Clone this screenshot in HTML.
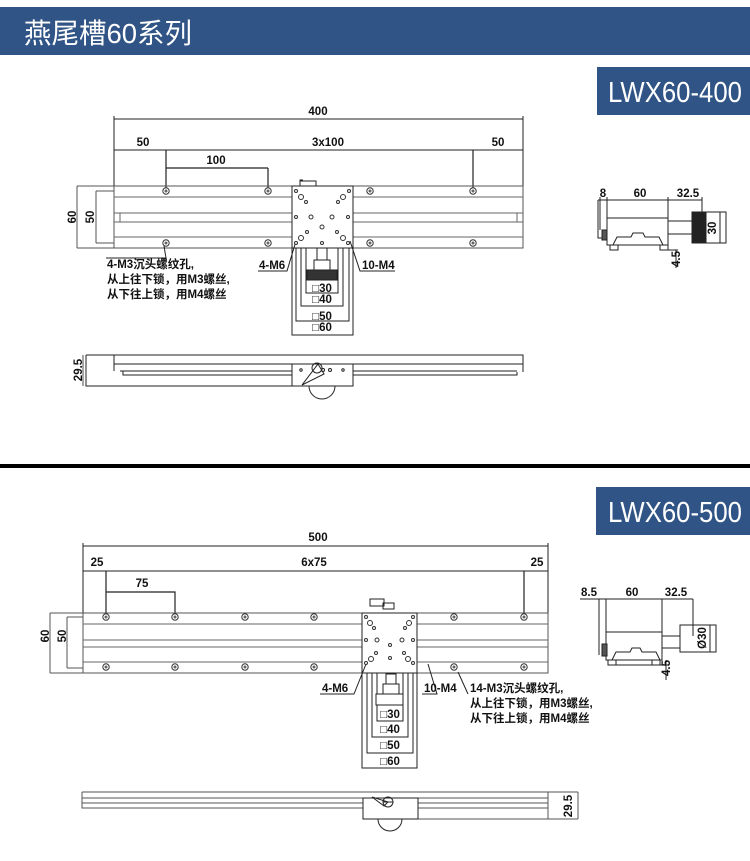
<!DOCTYPE html>
<html><head><meta charset="utf-8"><style>
html,body{margin:0;padding:0;background:#fff;width:750px;height:861px;overflow:hidden}
svg{display:block}
text{font-family:"Liberation Sans","Noto Sans CJK SC",sans-serif;fill:#111}
</style></head><body>
<svg width="750" height="861" viewBox="0 0 750 861" xmlns="http://www.w3.org/2000/svg">
<defs>
<g id="h"><circle r="3.2" fill="#fff" stroke="#333" stroke-width="1"/><circle r="1.5" fill="#666"/></g>
</defs>
<!-- header -->
<rect x="0" y="7" width="750" height="48" fill="#2f5485"/>
<text x="24" y="43" font-size="28" textLength="168" lengthAdjust="spacingAndGlyphs" style="fill:#fff">燕尾槽60系列</text>
<rect x="597" y="67" width="153" height="48" fill="#2f5485"/>
<text x="608" y="102" font-size="29" textLength="134" lengthAdjust="spacingAndGlyphs" style="fill:#fff">LWX60-400</text>
<rect x="0" y="464" width="750" height="4" fill="#000"/>
<rect x="596" y="487" width="154" height="48" fill="#2f5485"/>
<text x="608" y="522" font-size="29" textLength="134" lengthAdjust="spacingAndGlyphs" style="fill:#fff">LWX60-500</text>

<g fill="none" stroke="#222" stroke-width="1">
<!-- ===== TOP 400 ===== -->
<path d="M114 119H523M114 116V190M523 116V248M114 150H523"/>
<path d="M166 150V190M268 168V190M166 168H268M473 150V190" stroke-width="1.2"/>
<rect x="114" y="186" width="409" height="62" stroke="#555"/>
<path d="M77 186H114M77 248H114M77 186V248M96 191H114M96 243H114M96 191V243" stroke="#555"/>
<path d="M114 197H523M114 213H523M114 222H523M114 237H523M120 213V222M517 213V222" stroke="#666"/>
<rect x="292" y="186" width="61" height="62" fill="#fff"/>
<path d="M292 248V335H353V248M296 248V321H349V248M301 248V306H343V248M306 248V293H338V248"/>
<rect x="317" y="248" width="10" height="12"/><rect x="314" y="260" width="16" height="10"/>
<rect x="307" y="270" width="30" height="10" fill="#333"/>
<rect x="300" y="181" width="16" height="5"/><path d="M303 180h-3v3"/>
<path d="M106 258L166 258L164 246M258 271H287L296 241M395 271H360L350 241"/>
<!-- side 400 -->
<path d="M86 355H523V372M86 355V386H292M114 355V364H292M353 364H523M120 371H292M353 371H517M114 364V371M123 371V375H292M353 375H517V372"/>
<rect x="292" y="364" width="61" height="22" fill="#fff"/>
<path d="M309 386A13 13 0 0 0 335 386"/>
<path d="M302 385L318 364L324 374Z"/><circle cx="317" cy="368" r="5"/>
<circle cx="301" cy="370" r="1.2"/><circle cx="323" cy="370" r="1.5"/><circle cx="330" cy="370" r="1.5"/><circle cx="343" cy="370" r="1.2"/>
<path d="M83 355V386" stroke-width="0.8"/>
<!-- end view 400 -->
<path d="M598 200H702M600 197V230M607 197V245M668 197V250M702 197V212"/>
<rect x="607" y="218" width="61" height="27"/>
<path d="M598 200V238H607M603 231V240"/>
<rect x="602" y="230" width="5" height="10" fill="#555"/>
<path d="M613 245L617 237L631 237L633 233L643 233L645 237L659 237L663 245"/>
<rect x="668" y="221" width="24" height="13"/>
<rect x="692" y="212" width="28" height="31"/><rect x="692" y="212" width="14" height="31" fill="#222"/>
<path d="M720 212H726V243H720M668 250H678M676 250V268"/>
<rect x="610" y="245" width="8" height="5"/><rect x="660" y="245" width="8" height="5"/>

<!-- ===== BOTTOM 500 ===== -->
<path d="M83 546H548M83 543V613M548 543V673M83 571H548"/>
<path d="M106 571V617M106 592H175V617M524 571V617" stroke-width="1.2"/>
<rect x="83" y="613" width="465" height="60" stroke="#555"/>
<path d="M50 613H83M50 673H83M50 613V673M67 617H83M67 668H83M67 617V668" stroke="#555"/>
<path d="M83 624H548M83 640H548M83 647H548M83 662H548" stroke="#666"/>
<rect x="362" y="613" width="55" height="60" fill="#fff"/>
<path d="M362 673V768H417V673M367 673V753H413V673M372 673V737H408V673M377 673V721H403V673"/>
<rect x="386" y="674" width="10" height="10"/><rect x="383" y="684" width="16" height="10"/>
<rect x="376" y="694" width="27" height="11" fill="#fff"/>
<rect x="370" y="599" width="14" height="7"/><rect x="383" y="603" width="11" height="6"/>
<path d="M320 694H354L366 664M422 694H437L428 664M468 694L458 672"/>
<!-- side 500 -->
<path d="M82 792H578M82 792V808H363M418 808H548M82 798H363M418 798H548M82 803H363M418 803H548M548 792V819M578 792V819M418 819H578" stroke="#555"/>
<rect x="363" y="798" width="55" height="21" fill="#fff"/>
<path d="M378 819A12 12 0 0 0 402 819"/>
<path d="M372 797L388 802L384 806Z"/><circle cx="388" cy="802" r="5"/><path d="M383 802H393"/>
<!-- end view 500 -->
<path d="M580 599H693M599 599V655M606 599V660M662 599V660M693 599V636"/>
<rect x="606" y="632" width="56" height="28"/>
<rect x="602" y="644" width="5" height="12" fill="#555"/>
<path d="M612 660L616 652L630 652L632 648L640 648L642 652L656 652L660 660"/>
<rect x="662" y="636" width="18" height="12"/>
<rect x="680" y="625" width="30" height="27"/>
<path d="M710 625H716V652H710M608 665H668M666 660V680"/>
<rect x="608" y="660" width="8" height="5"/><rect x="652" y="660" width="8" height="5"/>
</g>

<!-- holes -->
<g>
<use href="#h" x="166" y="191"/><use href="#h" x="268" y="191"/><use href="#h" x="370" y="191"/><use href="#h" x="473" y="191"/>
<use href="#h" x="166" y="243"/><use href="#h" x="268" y="243"/><use href="#h" x="370" y="243"/><use href="#h" x="473" y="243"/>
<use href="#h" x="106" y="617"/><use href="#h" x="175" y="617"/><use href="#h" x="245" y="617"/><use href="#h" x="314" y="617"/><use href="#h" x="454" y="617"/><use href="#h" x="524" y="617"/>
<use href="#h" x="106" y="667"/><use href="#h" x="175" y="667"/><use href="#h" x="245" y="667"/><use href="#h" x="314" y="667"/><use href="#h" x="454" y="667"/><use href="#h" x="524" y="667"/>
</g>
<g fill="#fff" stroke="#333" stroke-width="1">
<circle cx="296" cy="191" r="1.5"/><circle cx="349" cy="191" r="1.5"/>
<circle cx="301" cy="197" r="2.5"/><circle cx="343" cy="197" r="2.5"/>
<circle cx="306" cy="202" r="1.5"/><circle cx="338" cy="202" r="1.5"/>
<circle cx="296" cy="217" r="1.5"/><circle cx="311" cy="217" r="2"/><circle cx="332" cy="217" r="2"/><circle cx="348" cy="217" r="1.5"/>
<circle cx="322" cy="227" r="2"/><circle cx="322" cy="243" r="1.5"/>
<circle cx="307" cy="232" r="1.5"/><circle cx="337" cy="232" r="1.5"/>
<circle cx="301" cy="238" r="2.5"/><circle cx="343" cy="238" r="2.5"/>
<circle cx="296" cy="243" r="1.5"/><circle cx="348" cy="243" r="1.5"/>
<circle cx="366" cy="617" r="1.5"/><circle cx="413" cy="617" r="1.5"/>
<circle cx="370" cy="623" r="2.5"/><circle cx="409" cy="623" r="2.5"/>
<circle cx="374" cy="628" r="1.5"/><circle cx="405" cy="628" r="1.5"/>
<circle cx="366" cy="640" r="1.5"/><circle cx="377" cy="640" r="2"/><circle cx="402" cy="640" r="2"/><circle cx="413" cy="640" r="1.5"/>
<circle cx="390" cy="645" r="1.5"/><circle cx="390" cy="658" r="1.5"/>
<circle cx="376" cy="653" r="1.5"/><circle cx="404" cy="653" r="1.5"/>
<circle cx="371" cy="659" r="2.5"/><circle cx="408" cy="659" r="2.5"/>
<circle cx="366" cy="663" r="1.5"/><circle cx="413" cy="663" r="1.5"/>
</g>

<!-- labels -->
<g font-size="11.5" font-weight="bold" style="font-weight:bold">
<text x="318" y="115" text-anchor="middle">400</text>
<text x="143" y="146" text-anchor="middle">50</text>
<text x="328" y="146" text-anchor="middle">3x100</text>
<text x="498" y="146" text-anchor="middle">50</text>
<text x="216" y="164" text-anchor="middle">100</text>
<text transform="translate(76 217) rotate(-90)" text-anchor="middle">60</text>
<text transform="translate(94 217) rotate(-90)" text-anchor="middle">50</text>
<text x="107" y="268" font-size="11.5">4-M3沉头螺纹孔,</text>
<text x="107" y="283" font-size="11.5">从上往下锁，用M3螺丝,</text>
<text x="107" y="298" font-size="11.5">从下往上锁，用M4螺丝</text>
<text x="259" y="269">4-M6</text>
<text x="362" y="269">10-M4</text>
<text x="322" y="292" text-anchor="middle">□30</text>
<text x="322" y="303" text-anchor="middle">□40</text>
<text x="322" y="320" text-anchor="middle">□50</text>
<text x="322" y="331" text-anchor="middle">□60</text>
<text transform="translate(82 370) rotate(-90)" text-anchor="middle">29.5</text>
<text x="603" y="197" text-anchor="middle">8</text>
<text x="640" y="197" text-anchor="middle">60</text>
<text x="688" y="197" text-anchor="middle">32.5</text>
<text transform="translate(716 228) rotate(-90)" text-anchor="middle">30</text>
<text transform="translate(680 259) rotate(-90)" text-anchor="middle">4.5</text>

<text x="318" y="541" text-anchor="middle">500</text>
<text x="97" y="566" text-anchor="middle">25</text>
<text x="314" y="566" text-anchor="middle">6x75</text>
<text x="537" y="566" text-anchor="middle">25</text>
<text x="142" y="587" text-anchor="middle">75</text>
<text transform="translate(49 636) rotate(-90)" text-anchor="middle">60</text>
<text transform="translate(66 636) rotate(-90)" text-anchor="middle">50</text>
<text x="322" y="692">4-M6</text>
<text x="424" y="692">10-M4</text>
<text x="470" y="692" font-size="11.5">14-M3沉头螺纹孔,</text>
<text x="470" y="707" font-size="11.5">从上往下锁，用M3螺丝,</text>
<text x="470" y="722" font-size="11.5">从下往上锁，用M4螺丝</text>
<text x="390" y="718" text-anchor="middle">□30</text>
<text x="390" y="733" text-anchor="middle">□40</text>
<text x="390" y="749" text-anchor="middle">□50</text>
<text x="390" y="765" text-anchor="middle">□60</text>
<text transform="translate(572 806) rotate(-90)" text-anchor="middle">29.5</text>
<text x="589" y="596" text-anchor="middle">8.5</text>
<text x="632" y="596" text-anchor="middle">60</text>
<text x="676" y="596" text-anchor="middle">32.5</text>
<text transform="translate(706 638) rotate(-90)" text-anchor="middle">Ø30</text>
<text transform="translate(670 668) rotate(-90)" text-anchor="middle">4.5</text>
</g>
</svg>
</body></html>
